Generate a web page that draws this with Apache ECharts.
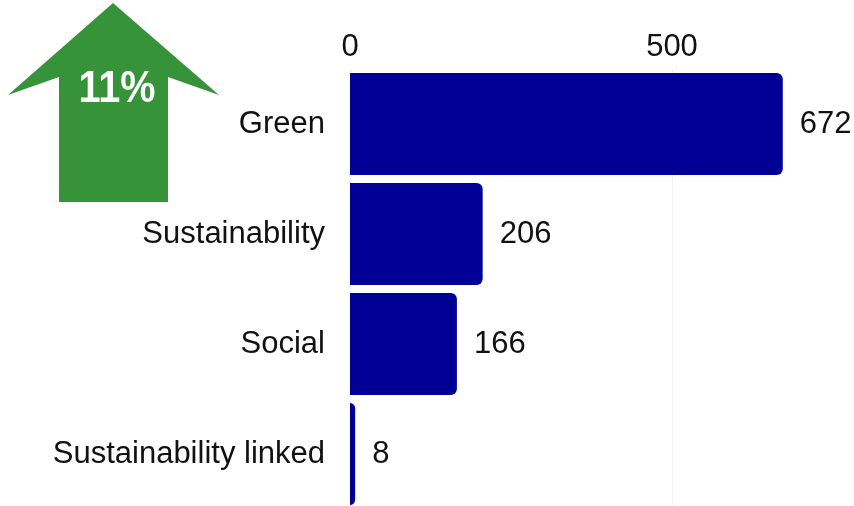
<!DOCTYPE html>
<html>
<head>
<meta charset="utf-8">
<script src="https://cdn.jsdelivr.net/npm/echarts@6/dist/echarts.min.js"></script>
<style>
html,body{margin:0;padding:0;background:#fff;}
#chart{width:854px;height:506px;}
</style>
</head>
<body>
<div id="chart"></div>
<script>
const categories = ["Green", "Sustainability", "Social", "Sustainability linked"];
const values = [672, 206, 166, 8];
const changeLabel = "11%";

const chart = echarts.init(document.getElementById('chart'), null, {renderer: 'canvas'});
const FONT = '"Liberation Sans", Arial, sans-serif';

chart.setOption({
  animation: false,
  backgroundColor: '#ffffff',
  grid: {left: 350, top: 69, width: 644, height: 440, containLabel: false, outerBoundsMode: 'none'},
  xAxis: {
    type: 'value',
    position: 'top',
    min: 0,
    max: 1000,
    interval: 500,
    axisLine: {show: false},
    axisTick: {show: false},
    axisLabel: {fontSize: 31, fontFamily: FONT, color: '#111', margin: 6},
    splitLine: {show: true, lineStyle: {color: '#f0f0f0', width: 1}}
  },
  yAxis: {
    type: 'category',
    data: categories,
    inverse: true,
    axisLine: {show: false},
    axisTick: {show: false},
    axisLabel: {fontSize: 31, fontFamily: FONT, color: '#111', margin: 25, padding: [3, 0, 0, 0]}
  },
  series: [{
    type: 'bar',
    data: values,
    barCategoryGap: '7.3%',
    itemStyle: {color: '#000096', borderRadius: [0, 6, 6, 0]},
    label: {
      show: true,
      position: 'right',
      distance: 17,
      fontSize: 31,
      fontFamily: FONT,
      color: '#111',
      padding: [3, 0, 0, 0]
    }
  }],
  graphic: [
    {
      type: 'polygon',
      shape: {points: [[113, 3], [219, 95], [168, 77], [168, 202], [59, 202], [59, 77], [8, 95]]},
      style: {fill: '#36933a'}
    },
    {
      type: 'text',
      x: 117, y: 90,
      scaleX: 0.9,
      style: {
        text: changeLabel,
        fill: '#ffffff',
        font: 'bold 44px ' + FONT,
        align: 'center',
        verticalAlign: 'middle'
      }
    }
  ]
});
</script>
</body>
</html>
